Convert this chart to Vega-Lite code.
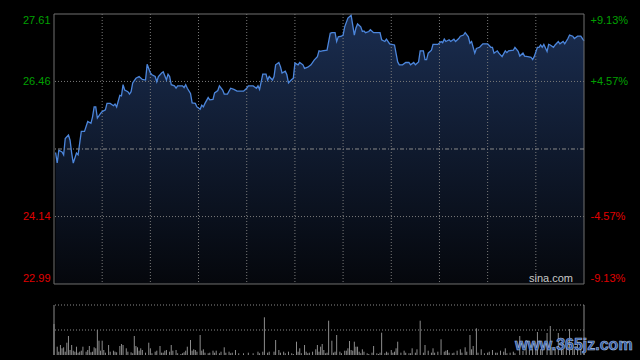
{
  "$schema": "https://vega.github.io/schema/vega-lite/v6.json",
  "width": 530,
  "height": 341,
  "autosize": {"type": "none"},
  "padding": {"left": 54, "top": 14, "right": 56, "bottom": 5},
  "background": "#000000",
  "config": {"view": {"stroke": null}},
  "datasets": {
    "price": [
      {"t":1,"p":25.24},{"t":2,"p":25.06},{"t":3,"p":25.28},{"t":5,"p":25.25},{"t":6,"p":25.20},{"t":7,"p":25.48},{"t":9,"p":25.54},{"t":10,"p":25.45},{"t":11,"p":25.23},{"t":12,"p":25.06},{"t":14,"p":25.23},{"t":15,"p":25.20},{"t":16,"p":25.40},{"t":17,"p":25.60},{"t":18,"p":25.60},{"t":19,"p":25.60},{"t":21,"p":25.77},{"t":23,"p":25.74},{"t":24,"p":25.85},{"t":25,"p":26.02},{"t":26,"p":26.02},{"t":27,"p":25.83},{"t":29,"p":25.91},{"t":30,"p":25.94},{"t":32,"p":25.97},{"t":33,"p":26.08},{"t":35,"p":26.08},{"t":37,"p":26.04},{"t":38,"p":26.07},{"t":39,"p":26.02},{"t":41,"p":26.22},{"t":42,"p":26.21},{"t":43,"p":26.40},{"t":44,"p":26.31},{"t":46,"p":26.28},{"t":47,"p":26.24},{"t":48,"p":26.28},{"t":49,"p":26.43},{"t":51,"p":26.51},{"t":53,"p":26.54},{"t":55,"p":26.49},{"t":57,"p":26.48},{"t":58,"p":26.75},{"t":60,"p":26.60},{"t":61,"p":26.57},{"t":63,"p":26.54},{"t":64,"p":26.45},{"t":65,"p":26.54},{"t":67,"p":26.60},{"t":68,"p":26.62},{"t":70,"p":26.48},{"t":71,"p":26.58},{"t":72,"p":26.54},{"t":73,"p":26.40},{"t":75,"p":26.38},{"t":76,"p":26.34},{"t":77,"p":26.38},{"t":80,"p":26.38},{"t":81,"p":26.35},{"t":82,"p":26.40},{"t":83,"p":26.34},{"t":85,"p":26.25},{"t":86,"p":26.09},{"t":88,"p":26.08},{"t":89,"p":26.02},{"t":91,"p":25.98},{"t":92,"p":26.05},{"t":93,"p":26.02},{"t":94,"p":26.08},{"t":96,"p":26.18},{"t":97,"p":26.14},{"t":99,"p":26.15},{"t":100,"p":26.26},{"t":102,"p":26.30},{"t":103,"p":26.38},{"t":105,"p":26.31},{"t":106,"p":26.24},{"t":108,"p":26.24},{"t":110,"p":26.34},{"t":112,"p":26.32},{"t":114,"p":26.29},{"t":116,"p":26.29},{"t":118,"p":26.29},{"t":120,"p":26.34},{"t":121,"p":26.38},{"t":124,"p":26.38},{"t":126,"p":26.34},{"t":127,"p":26.38},{"t":128,"p":26.32},{"t":130,"p":26.58},{"t":132,"p":26.58},{"t":133,"p":26.48},{"t":134,"p":26.54},{"t":136,"p":26.48},{"t":137,"p":26.54},{"t":138,"p":26.74},{"t":140,"p":26.78},{"t":141,"p":26.71},{"t":142,"p":26.60},{"t":144,"p":26.63},{"t":145,"p":26.57},{"t":146,"p":26.43},{"t":148,"p":26.49},{"t":149,"p":26.51},{"t":150,"p":26.77},{"t":152,"p":26.74},{"t":153,"p":26.78},{"t":155,"p":26.74},{"t":156,"p":26.68},{"t":158,"p":26.70},{"t":160,"p":26.74},{"t":162,"p":26.82},{"t":164,"p":26.88},{"t":165,"p":26.98},{"t":166,"p":26.97},{"t":167,"p":26.98},{"t":170,"p":26.99},{"t":172,"p":27.28},{"t":173,"p":27.29},{"t":175,"p":27.29},{"t":176,"p":27.14},{"t":177,"p":27.22},{"t":179,"p":27.23},{"t":180,"p":27.25},{"t":181,"p":27.39},{"t":183,"p":27.54},{"t":185,"p":27.59},{"t":186,"p":27.42},{"t":187,"p":27.25},{"t":188,"p":27.37},{"t":189,"p":27.44},{"t":191,"p":27.39},{"t":192,"p":27.31},{"t":193,"p":27.32},{"t":194,"p":27.29},{"t":196,"p":27.31},{"t":197,"p":27.34},{"t":199,"p":27.29},{"t":201,"p":27.29},{"t":203,"p":27.29},{"t":204,"p":27.17},{"t":206,"p":27.14},{"t":207,"p":27.18},{"t":209,"p":27.10},{"t":212,"p":27.08},{"t":214,"p":26.79},{"t":215,"p":26.74},{"t":217,"p":26.74},{"t":219,"p":26.78},{"t":221,"p":26.78},{"t":222,"p":26.74},{"t":224,"p":26.78},{"t":225,"p":26.74},{"t":227,"p":26.79},{"t":228,"p":26.98},{"t":230,"p":26.98},{"t":231,"p":26.83},{"t":232,"p":26.83},{"t":233,"p":26.94},{"t":235,"p":26.99},{"t":236,"p":27.09},{"t":239,"p":27.09},{"t":241,"p":27.14},{"t":242,"p":27.12},{"t":243,"p":27.18},{"t":244,"p":27.14},{"t":246,"p":27.17},{"t":247,"p":27.14},{"t":249,"p":27.18},{"t":250,"p":27.14},{"t":252,"p":27.19},{"t":253,"p":27.23},{"t":255,"p":27.25},{"t":256,"p":27.29},{"t":258,"p":27.22},{"t":259,"p":27.11},{"t":260,"p":27.14},{"t":262,"p":26.94},{"t":263,"p":27.02},{"t":265,"p":27.04},{"t":267,"p":27.10},{"t":270,"p":27.10},{"t":272,"p":27.04},{"t":273,"p":27.04},{"t":274,"p":26.94},{"t":276,"p":26.98},{"t":277,"p":26.94},{"t":279,"p":26.88},{"t":281,"p":26.98},{"t":282,"p":26.95},{"t":283,"p":26.98},{"t":286,"p":26.99},{"t":287,"p":27.04},{"t":289,"p":26.97},{"t":290,"p":26.89},{"t":292,"p":26.94},{"t":293,"p":26.89},{"t":295,"p":26.88},{"t":297,"p":26.87},{"t":298,"p":26.83},{"t":299,"p":26.88},{"t":301,"p":27.04},{"t":302,"p":27.04},{"t":303,"p":27.08},{"t":304,"p":27.04},{"t":305,"p":27.09},{"t":307,"p":26.97},{"t":308,"p":27.09},{"t":309,"p":27.08},{"t":311,"p":27.04},{"t":312,"p":27.08},{"t":314,"p":27.14},{"t":315,"p":27.10},{"t":317,"p":27.14},{"t":318,"p":27.10},{"t":320,"p":27.19},{"t":321,"p":27.25},{"t":323,"p":27.23},{"t":324,"p":27.19},{"t":326,"p":27.23},{"t":328,"p":27.23},{"t":330,"p":27.15}
    ],
    "volume": [
      {"t":0,"v":31000},{"t":2,"v":8300},{"t":3,"v":3300},{"t":4,"v":10000},{"t":5,"v":6700},{"t":6,"v":7700},{"t":7,"v":3300},{"t":8,"v":12300},{"t":9,"v":19000},{"t":10,"v":5000},{"t":11,"v":10000},{"t":12,"v":4300},{"t":13,"v":3300},{"t":14,"v":8300},{"t":15,"v":2300},{"t":16,"v":3300},{"t":17,"v":4300},{"t":18,"v":8300},{"t":20,"v":3300},{"t":21,"v":5000},{"t":22,"v":9000},{"t":23,"v":2700},{"t":24,"v":3300},{"t":25,"v":7700},{"t":26,"v":6700},{"t":27,"v":25000},{"t":28,"v":14300},{"t":29,"v":4300},{"t":30,"v":14300},{"t":31,"v":5000},{"t":32,"v":2300},{"t":34,"v":10000},{"t":35,"v":3300},{"t":37,"v":4300},{"t":38,"v":3300},{"t":39,"v":2700},{"t":41,"v":9000},{"t":42,"v":11000},{"t":43,"v":10000},{"t":45,"v":6700},{"t":46,"v":3300},{"t":48,"v":2700},{"t":49,"v":1700},{"t":50,"v":19000},{"t":51,"v":9000},{"t":52,"v":7700},{"t":53,"v":4300},{"t":54,"v":6700},{"t":55,"v":5000},{"t":57,"v":2300},{"t":59,"v":12300},{"t":60,"v":6700},{"t":61,"v":1700},{"t":63,"v":3300},{"t":64,"v":4300},{"t":66,"v":9000},{"t":67,"v":2300},{"t":68,"v":2300},{"t":69,"v":4300},{"t":70,"v":5000},{"t":72,"v":3300},{"t":73,"v":10000},{"t":74,"v":4300},{"t":76,"v":5000},{"t":77,"v":1700},{"t":79,"v":1000},{"t":80,"v":1700},{"t":81,"v":2700},{"t":82,"v":4300},{"t":83,"v":8300},{"t":85,"v":15000},{"t":86,"v":4300},{"t":87,"v":5700},{"t":88,"v":5000},{"t":89,"v":3300},{"t":91,"v":20000},{"t":92,"v":4300},{"t":93,"v":5700},{"t":94,"v":2300},{"t":96,"v":1700},{"t":97,"v":2300},{"t":99,"v":4300},{"t":100,"v":2300},{"t":101,"v":4300},{"t":103,"v":1700},{"t":104,"v":3300},{"t":106,"v":7700},{"t":107,"v":2300},{"t":109,"v":3300},{"t":110,"v":1700},{"t":111,"v":2300},{"t":113,"v":5000},{"t":115,"v":1700},{"t":118,"v":1700},{"t":121,"v":2300},{"t":124,"v":1700},{"t":127,"v":3300},{"t":128,"v":1700},{"t":130,"v":3300},{"t":131,"v":37700},{"t":133,"v":2300},{"t":134,"v":3300},{"t":137,"v":3300},{"t":138,"v":15000},{"t":140,"v":5000},{"t":141,"v":2300},{"t":143,"v":3300},{"t":144,"v":1700},{"t":146,"v":3300},{"t":148,"v":1700},{"t":149,"v":1000},{"t":151,"v":13300},{"t":152,"v":3300},{"t":153,"v":6700},{"t":154,"v":1700},{"t":156,"v":10000},{"t":157,"v":3300},{"t":158,"v":1700},{"t":159,"v":2300},{"t":161,"v":3300},{"t":163,"v":5700},{"t":164,"v":10000},{"t":165,"v":3300},{"t":166,"v":8300},{"t":167,"v":11000},{"t":168,"v":5000},{"t":169,"v":1700},{"t":170,"v":2300},{"t":171,"v":34300},{"t":173,"v":14300},{"t":174,"v":2300},{"t":175,"v":3300},{"t":176,"v":20000},{"t":178,"v":3300},{"t":179,"v":1700},{"t":181,"v":4300},{"t":182,"v":4300},{"t":183,"v":6700},{"t":184,"v":14000},{"t":185,"v":5000},{"t":186,"v":4300},{"t":187,"v":13300},{"t":188,"v":8300},{"t":189,"v":8300},{"t":190,"v":3300},{"t":191,"v":1700},{"t":192,"v":5700},{"t":193,"v":3300},{"t":195,"v":1700},{"t":196,"v":1000},{"t":198,"v":2300},{"t":199,"v":9000},{"t":201,"v":1700},{"t":202,"v":1000},{"t":203,"v":2300},{"t":204,"v":22300},{"t":206,"v":1700},{"t":207,"v":3300},{"t":208,"v":2300},{"t":210,"v":5000},{"t":211,"v":2300},{"t":212,"v":3300},{"t":213,"v":6700},{"t":214,"v":13300},{"t":216,"v":2300},{"t":218,"v":4300},{"t":219,"v":2300},{"t":221,"v":1700},{"t":222,"v":1700},{"t":223,"v":6700},{"t":225,"v":2300},{"t":226,"v":5700},{"t":228,"v":34300},{"t":230,"v":2300},{"t":231,"v":10000},{"t":233,"v":4300},{"t":235,"v":2300},{"t":236,"v":6700},{"t":237,"v":2300},{"t":239,"v":3300},{"t":241,"v":15700},{"t":243,"v":3300},{"t":244,"v":4300},{"t":245,"v":5000},{"t":246,"v":2300},{"t":248,"v":1700},{"t":249,"v":2300},{"t":251,"v":4300},{"t":253,"v":5700},{"t":254,"v":2300},{"t":256,"v":7700},{"t":257,"v":3300},{"t":259,"v":20000},{"t":260,"v":5700},{"t":261,"v":9000},{"t":263,"v":26700},{"t":264,"v":2300},{"t":266,"v":5700},{"t":268,"v":1700},{"t":270,"v":2300},{"t":271,"v":3300},{"t":273,"v":5000},{"t":275,"v":2300},{"t":276,"v":2300},{"t":278,"v":4300},{"t":280,"v":3300},{"t":281,"v":6700},{"t":282,"v":1700},{"t":284,"v":2300},{"t":286,"v":3300},{"t":287,"v":1700},{"t":290,"v":19000},{"t":292,"v":4000},{"t":294,"v":15000},{"t":296,"v":5000},{"t":298,"v":6000},{"t":300,"v":8000},{"t":301,"v":23000},{"t":303,"v":6000},{"t":304,"v":10000},{"t":307,"v":22000},{"t":309,"v":29000},{"t":310,"v":8000},{"t":312,"v":6000},{"t":314,"v":22000},{"t":316,"v":7000},{"t":317,"v":5000},{"t":319,"v":9000},{"t":321,"v":26000},{"t":323,"v":8000},{"t":324,"v":6000},{"t":326,"v":10000},{"t":328,"v":12000},{"t":330,"v":5000}
    ],
    "vgrid": [{"t":30},{"t":60},{"t":90},{"t":120},{"t":150},{"t":180},{"t":210},{"t":240},{"t":270},{"t":300}],
    "hgrid": [{"p":26.456},{"p":24.144}],
    "one": [{}]
  },
  "layer": [
    {
      "layer": [
        {
          "data": {"name": "price"},
          "mark": {"type": "area", "color": {"gradient": "linear", "x1": 0, "y1": 0, "x2": 0, "y2": 1, "stops": [{"offset": 0, "color": "#1a2d50"}, {"offset": 1, "color": "#05070c"}]}},
          "encoding": {
            "x": {"field": "t", "type": "quantitative", "scale": {"domain": [0, 330], "nice": false, "zero": false}, "axis": null},
            "y": {"field": "p", "type": "quantitative", "scale": {"domain": [21.7751, 27.61], "nice": false, "zero": false}, "axis": null},
            "y2": {"datum": 22.99}
          }
        },
        {
          "data": {"name": "hgrid"},
          "mark": {"type": "rule", "color": "#7a7a7a", "strokeDash": [1, 2], "strokeWidth": 1},
          "encoding": {"y": {"field": "p", "type": "quantitative", "axis": null}}
        },
        {
          "data": {"name": "vgrid"},
          "mark": {"type": "rule", "color": "#7a7a7a", "strokeDash": [1, 2], "strokeWidth": 1},
          "encoding": {
            "x": {"field": "t", "type": "quantitative", "axis": null},
            "y": {"datum": 27.61, "axis": null},
            "y2": {"datum": 22.99}
          }
        },
        {
          "data": {"name": "price"},
          "mark": {"type": "line", "color": "#4c86dc", "strokeWidth": 1.3},
          "encoding": {
            "x": {"field": "t", "type": "quantitative", "axis": null},
            "y": {"field": "p", "type": "quantitative", "axis": null}
          }
        },
        {
          "data": {"name": "one"},
          "mark": {"type": "rect", "fill": null, "stroke": "#707070", "strokeWidth": 1},
          "encoding": {
            "x": {"datum": 0, "axis": null},
            "x2": {"datum": 330},
            "y": {"datum": 27.61, "axis": null},
            "y2": {"datum": 22.99}
          }
        },
        {
          "data": {"values": [{"label": "sina.com"}]},
          "mark": {"type": "text", "align": "right", "baseline": "bottom", "dx": -11, "dy": 0, "color": "#c8c8c8", "font": "Liberation Sans", "fontSize": 11},
          "encoding": {
            "x": {"datum": 330, "axis": null},
            "y": {"datum": 22.99, "axis": null},
            "text": {"field": "label"}
          }
        }
      ]
    },
    {
      "data": {"name": "one"},
      "mark": {"type": "rule", "color": "#8a8a8a", "strokeDash": [4, 2, 1, 2], "strokeWidth": 1},
      "encoding": {
        "y": {"datum": 25.3, "type": "quantitative", "scale": {"domain": [21.7751, 27.61], "nice": false, "zero": false},
          "axis": {"orient": "left", "values": [22.99, 24.144, 26.456, 27.61], "format": ".2f", "title": null, "domain": false, "ticks": false, "grid": false, "labelPadding": 4, "labelFont": "Liberation Sans", "labelFontSize": 11, "labelOverlap": false, "labelBound": false, "labelFlush": false,
            "labelColor": {"condition": {"test": "datum.value > 25.3", "value": "#00a000"}, "value": "#e00000"},
            "labelBaseline": {"condition": [{"test": "datum.value > 27", "value": "top"}, {"test": "datum.value < 23.5", "value": "bottom"}], "value": "middle"}}}
      }
    },
    {
      "data": {"name": "one"},
      "mark": {"type": "rule", "opacity": 0},
      "encoding": {
        "y": {"datum": 0, "type": "quantitative", "scale": {"domain": [-13.9319, 9.13], "nice": false, "zero": false},
          "axis": {"orient": "right", "values": [-9.13, -4.57, 4.57, 9.13], "labelExpr": "(datum.value > 0 ? '+' : '-') + format(abs(datum.value), '.2f') + '%'", "title": null, "domain": false, "ticks": false, "grid": false, "labelPadding": 6, "labelFont": "Liberation Sans", "labelFontSize": 11, "labelOverlap": false, "labelBound": false, "labelFlush": false,
            "labelColor": {"condition": {"test": "datum.value > 0", "value": "#00a000"}, "value": "#e00000"},
            "labelBaseline": {"condition": [{"test": "datum.value > 9", "value": "top"}, {"test": "datum.value < -9", "value": "bottom"}], "value": "middle"}}}
      }
    },
    {
      "layer": [
        {
          "data": {"name": "volume"},
          "mark": {"type": "rule", "color": "#8c8c8c", "strokeWidth": 1},
          "encoding": {
            "x": {"field": "t", "type": "quantitative", "axis": null},
            "y": {"field": "v", "type": "quantitative", "scale": {"domain": [0, 341000], "nice": false, "zero": true}, "axis": null},
            "y2": {"datum": 0}
          }
        },
        {
          "data": {"values": [{"v": 50000}, {"v": 25000}]},
          "mark": {"type": "rule", "color": "#8a8a8a", "strokeDash": [1, 2], "strokeWidth": 1},
          "encoding": {"y": {"field": "v", "type": "quantitative", "axis": null}}
        },
        {
          "data": {"values": [{"t": 0}, {"t": 330}]},
          "mark": {"type": "rule", "color": "#8a8a8a", "strokeWidth": 1},
          "encoding": {
            "x": {"field": "t", "type": "quantitative", "axis": null},
            "y": {"datum": 50000, "axis": null},
            "y2": {"datum": 0}
          }
        },
        {
          "data": {"values": [{"label": "www.365jz.com"}]},
          "mark": {"type": "text", "align": "left", "baseline": "alphabetic", "color": "#2d5aa8", "stroke": "#a9bddc", "strokeWidth": 0.6, "font": "Liberation Sans", "fontWeight": "bold", "fontSize": 16},
          "encoding": {
            "x": {"datum": 287, "axis": null},
            "y": {"datum": 5000, "axis": null},
            "text": {"field": "label"}
          }
        }
      ]
    }
  ],
  "resolve": {"scale": {"y": "independent"}}
}
